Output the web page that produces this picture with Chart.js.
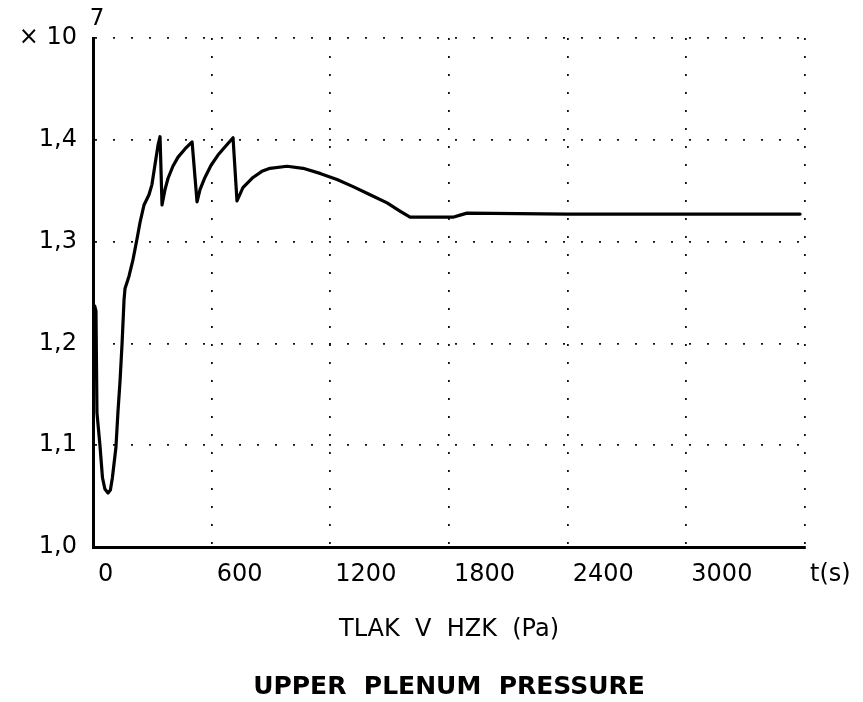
<!DOCTYPE html>
<html>
<head>
<meta charset="utf-8">
<title>Upper plenum pressure</title>
<script src="https://cdn.jsdelivr.net/npm/chart.js@4.4.1/dist/chart.umd.min.js"></script>
<style>
  html, body { margin: 0; padding: 0; background: #fff; }
  #wrap { width: 863px; height: 702px; position: relative; }
</style>
</head>
<body>
<div id="wrap"><canvas id="pressureChart"></canvas></div>
<script>
// time in seconds, pressure in units of 10^7 Pa
const timeS = [0, 8, 15, 20, 35, 48, 60, 76, 88, 98, 116, 126, 137, 147, 157, 162, 182, 202, 222, 238, 258, 283,
  298, 313, 329, 339, 349, 364, 379, 404, 430, 465, 501, 526, 541, 566, 597, 632, 667, 708, 728, 758, 809, 854,
  895, 981, 1062, 1148, 1234, 1315, 1401, 1487, 1552, 1603, 1820, 1856, 1891, 2400, 3000, 3575];
const pressure = [1.230, 1.237, 1.232, 1.132, 1.100, 1.068, 1.057, 1.053, 1.056, 1.068, 1.098, 1.132, 1.164, 1.200,
  1.243, 1.254, 1.266, 1.282, 1.302, 1.319, 1.336, 1.346, 1.356, 1.375, 1.395, 1.403, 1.336, 1.351, 1.362, 1.374,
  1.383, 1.391, 1.398, 1.339, 1.351, 1.363, 1.375, 1.385, 1.393, 1.402, 1.340, 1.353, 1.363, 1.369, 1.372, 1.374,
  1.372, 1.367, 1.361, 1.354, 1.346, 1.338, 1.330, 1.324, 1.324, 1.326, 1.328, 1.327, 1.327, 1.327];

const xTicks = [0, 600, 1200, 1800, 2400, 3000, 3600];
const xUnit = "t(s)";
const yExponent = "7";

const FONT = "'DejaVu Sans', sans-serif";

// superscript exponent above the y axis
const exponentLabel = {
  id: "exponentLabel",
  afterDraw(chart) {
    const { ctx, chartArea, scales } = chart;
    const y = scales.y.getPixelForValue(scales.y.max) - 19;
    ctx.save();
    ctx.fillStyle = "#000";
    ctx.font = "23px " + FONT;
    ctx.textAlign = "center";
    ctx.textBaseline = "middle";
    ctx.fillText(yExponent, chartArea.left + 4, y);
    ctx.restore();
  },
};

const points = timeS.map((t, i) => ({ x: t, y: pressure[i] }));

// dotted grid, solid axis lines
const dotted = { color: "#000", width: 3, dash: [2, 16] };

new Chart(document.getElementById("pressureChart"), {
  type: "line",
  data: {
    datasets: [
      {
        data: points,
        borderColor: "#000",
        borderWidth: 3.2,
        pointRadius: 0,
        tension: 0,
        borderJoinStyle: "round",
        borderCapStyle: "round",
      },
    ],
  },
  options: {
    responsive: true,
    maintainAspectRatio: false,
    animation: false,
    layout: { padding: { top: 38, right: 58, left: 0, bottom: 0 } },
    plugins: {
      legend: { display: false },
      tooltip: { enabled: false },
      title: { display: false },
    },
    scales: {
      x: {
        type: "linear",
        min: 0,
        max: 3600,
        weight: 0,
        afterFit: (scale) => { scale.height = 110; },
        afterBuildTicks: (scale) => {
          scale.ticks = xTicks.map((v) => ({ value: v }));
        },
        grid: { color: "#111", lineWidth: 1.8, drawTicks: false },
        border: dotted,
        ticks: {
          align: "start",
          labelOffset: 5,
          padding: 13,
          maxRotation: 0,
          color: "#000",
          font: { family: FONT, size: 24 },
          callback: (value) => (value === 3600 ? xUnit : String(value)),
        },
        title: {
          display: true,
          text: "TLAK  V  HZK  (Pa)",
          color: "#000",
          font: { family: FONT, size: 24 },
          padding: { top: 0, bottom: 13 },
        },
      },
      // second bottom axis carrying the English caption
      xCaption: {
        type: "linear",
        position: "bottom",
        min: 0,
        max: 3600,
        weight: 1,
        afterFit: (scale) => { scale.height = 45; },
        grid: { display: false },
        border: { display: false },
        ticks: { display: false },
        title: {
          display: true,
          text: "UPPER  PLENUM  PRESSURE",
          color: "#000",
          font: { family: FONT, size: 25, weight: "bold" },
          padding: { top: 0, bottom: 0 },
        },
      },
      y: {
        min: 1.0,
        max: 1.5,
        afterFit: (scale) => { scale.width = 93; },
        grid: { color: "#111", lineWidth: 1.8, drawTicks: false },
        border: dotted,
        ticks: {
          stepSize: 0.1,
          padding: 16,
          color: "#000",
          font: { family: FONT, size: 24 },
          callback: (value) =>
            Math.abs(value - 1.5) < 1e-6 ? "\u00d7 10" : value.toFixed(1).replace(".", ","),
        },
      },
    },
  },
  plugins: [exponentLabel],
});
</script>
</body>
</html>
